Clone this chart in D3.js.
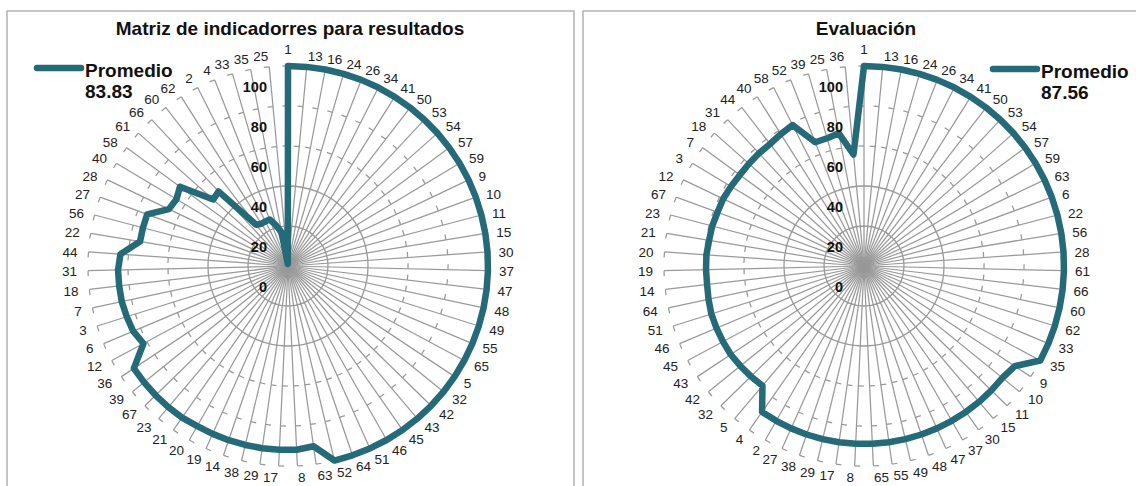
<!DOCTYPE html>
<html><head><meta charset="utf-8">
<script src="https://cdn.jsdelivr.net/npm/d3@7"></script>
<style>
body{margin:0;background:#fff;}
svg{display:block;font-family:"Liberation Sans",Arial,Helvetica,sans-serif;}
</style>
</head><body>
<svg id="c" width="1136" height="486"></svg>
<script>
// ---- data ----
const categories1 = ["1","13","16","24","26","34","41","50","53","54","57","59","9","10","11","15","30","37","47","48","49","55","65","5","32","42","43","45","46","51","64","52","63","8","17","29","38","14","19","20","21","23","67","39","36","12","6","3","7","18","31","44","22","56","27","28","40","58","61","66","60","62","2","4","33","35","25"];
const values1 = [100,100,100,100,100,100,100,100,100,100,100,100,100,100,100,100,100,100,100,100,100,100,100,100,100,100,100,100,100,100,100,100,91,92,92,92,92,92,92,92,92.5,92.5,92.5,92.5,92.5,82,84,84.5,85,85,85,84,75,75,75,66,65,67,50,51,26,25,25,25,21,17,1];

const categories2 = ["1","13","16","24","26","34","41","50","53","54","57","59","63","6","22","56","28","61","66","60","62","33","35","9","10","11","15","30","37","47","48","49","55","65","8","17","29","38","27","2","4","5","32","42","43","45","46","51","64","14","19","20","21","23","67","12","3","7","18","31","44","40","58","52","39","25","36"];
const values2 = [100,100,100,100,100,100,100,100,100,100,100,100,100,100,100,100,100,100,100,100,100,100,100,90.5,89,89,89,89,89,89,89,89,89,89,89,89,89,89,89,89,89,78.5,79,79.5,80,80,80,80,79.5,79,79,79,78.5,78.5,78,78,77.5,77,77,77,77,78,79,66.5,66.5,67.5,56];

const tickValues = [0,20,40,60,80,100];
const ringValues = [20,40];
const markValues = [60,80,100];
const titles = ["Matriz de indicadorres para resultados","Evaluación"];
const legendLabel = "Promedio";
const averages = ["83.83","87.56"];

// ---- drawing ----
const svg = d3.select("#c");
svg.append("rect").attr("width",1136).attr("height",486).attr("fill","#fff");

const SERIES = "#246a78";
const GRID = "#999999";

function radar(o){
  const g = svg.append("g");
  // panel frame
  g.append("rect").attr("x",o.px).attr("y",11).attr("width",o.pw).attr("height",520)
    .attr("fill","none").attr("stroke","#b3b3b3").attr("stroke-width",1.5);

  const n = o.cats.length;
  const r = d3.scaleLinear().domain([0,100]).range([0,200]);
  const a = d3.scaleLinear().domain([0,n]).range([0,2*Math.PI]);
  const c = g.append("g").attr("transform",`translate(${o.cx},${o.cy})`);
  const px = (i,v)=> r(v)*Math.sin(a(i));
  const py = (i,v)=> -r(v)*Math.cos(a(i));

  // rings
  c.selectAll("circle.ring").data(ringValues).join("circle")
    .attr("r",d=>r(d)).attr("fill","none").attr("stroke",GRID).attr("stroke-width",1.3);
  // spokes
  c.selectAll("line.spoke").data(d3.range(n)).join("line")
    .attr("x1",0).attr("y1",0).attr("x2",i=>px(i,100)).attr("y2",i=>py(i,100))
    .attr("stroke",GRID).attr("stroke-width",1.25);
  // tick marks (counterclockwise side)
  const marks = [];
  d3.range(n).forEach(i=>markValues.forEach(v=>marks.push({i,v})));
  const L = 5.5;
  c.selectAll("line.mark").data(marks).join("line")
    .attr("x1",d=>px(d.i,d.v)).attr("y1",d=>py(d.i,d.v))
    .attr("x2",d=>px(d.i,d.v)-L*Math.cos(a(d.i)))
    .attr("y2",d=>py(d.i,d.v)-L*Math.sin(a(d.i)))
    .attr("stroke",GRID).attr("stroke-width",1.25);

  // series polygon
  const line = d3.lineRadial().angle((d,i)=>a(i)).radius(d=>r(d)).curve(d3.curveLinearClosed);
  c.append("path").attr("d",line(o.vals)).attr("fill","none")
    .attr("stroke",SERIES).attr("stroke-width",6.5).attr("stroke-linejoin","round");

  // value axis labels
  c.selectAll("text.tick").data(tickValues).join("text")
    .attr("x",-21).attr("y",d=>-r(d)+21)
    .attr("text-anchor","end").attr("dominant-baseline","central")
    .attr("font-size",14.5).attr("font-weight","bold").attr("fill","#111")
    .text(d=>d);

  // category labels
  const R = r(100)+11;
  c.selectAll("text.cat").data(o.cats).join("text")
    .each(function(d,i){
      const t = a(i), s = Math.sin(t), co = Math.cos(t);
      const x = R*s, y = -R*co;
      const el = d3.select(this);
      if (Math.abs(s) < 0.02){
        el.attr("x",x).attr("y",y - 6*Math.sign(co)).attr("text-anchor","middle");
      } else {
        el.attr("x",x).attr("y",y+1).attr("text-anchor", s>0 ? "start" : "end");
      }
    })
    .attr("dominant-baseline","central")
    .attr("font-size",13.5).attr("fill","#222")
    .text(d=>d);

  // title
  g.append("text").attr("x",o.tx).attr("y",35).attr("text-anchor","middle")
    .attr("font-size",19).attr("font-weight","bold").attr("fill","#111").text(o.title);

  // legend
  g.append("line").attr("x1",o.lx).attr("x2",o.lx+44).attr("y1",o.ly).attr("y2",o.ly)
    .attr("stroke",SERIES).attr("stroke-width",6.5).attr("stroke-linecap","round");
  g.append("text").attr("x",o.lx+48).attr("y",o.ly+9)
    .attr("font-size",19).attr("font-weight","bold").attr("fill","#111").text(legendLabel);
  g.append("text").attr("x",o.lx+48).attr("y",o.ly+30)
    .attr("font-size",19).attr("font-weight","bold").attr("fill","#111").text(o.avg);
}

radar({cats:categories1, vals:values1, cx:288, cy:266, px:7, pw:567,
       title:titles[0], tx:290, lx:37, ly:68, avg:averages[0]});
radar({cats:categories2, vals:values2, cx:864, cy:266, px:583, pw:600,
       title:titles[1], tx:866, lx:993, ly:69, avg:averages[1]});
</script>
</body></html>
